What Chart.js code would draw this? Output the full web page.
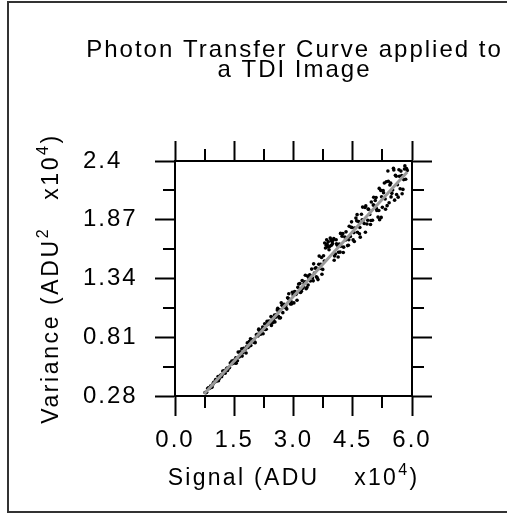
<!DOCTYPE html>
<html>
<head>
<meta charset="utf-8">
<style>
  html, body { margin: 0; padding: 0; background: #fff; }
  #wrap { width: 507px; height: 514px; }
</style>
</head>
<body>
<div id="wrap"><canvas id="chart" width="507" height="514"></canvas></div>
<script src="https://cdn.jsdelivr.net/npm/chart.js@4.4.1/dist/chart.umd.min.js"></script>
<script>
  // measured points: signal (ADU x1e4) vs variance (ADU^2 x1e4)
  const signal = [
    0.76,0.80,0.83,0.87,0.90,0.94,0.98,1.01,1.05,1.09,
    1.12,1.16,1.20,1.23,1.27,1.31,1.34,1.38,1.42,1.45,
    1.49,1.52,1.56,1.60,1.63,1.67,1.70,1.74,1.78,1.81,
    1.85,1.88,1.92,1.96,1.99,2.03,2.06,2.10,2.13,2.17,
    2.20,2.24,2.27,2.31,2.34,2.38,2.41,2.45,2.48,2.52,
    2.55,2.59,2.62,2.66,2.69,2.73,2.76,2.80,2.83,2.87,
    2.90,2.94,2.97,3.01,3.04,3.08,3.11,3.15,3.18,3.22,
    3.25,3.29,3.32,3.36,3.39,3.43,3.46,3.50,3.53,3.57,
    3.60,3.64,3.67,3.71,3.74,3.78,3.81,3.85,3.88,3.92,
    3.95,3.99,4.02,4.06,4.09,4.13,4.16,4.20,4.23,4.27,
    4.30,4.34,4.37,4.41,4.44,4.48,4.51,4.55,4.58,4.62,
    4.65,4.69,4.72,4.76,4.79,4.83,4.86,4.90,4.93,4.97,
    5.00,5.04,5.07,5.11,5.14,5.18,5.21,5.25,5.28,5.32,
    5.35,5.39,5.42,5.46,5.49,5.53,5.56,5.60,5.63,5.67,
    5.70,5.74,5.77,5.81,5.84,5.88,
    0.78,0.85,0.92,0.96,1.03,1.07,1.14,1.18,1.25,1.29,
    1.36,1.40,1.47,1.54,1.58,1.65,1.72,1.76,1.83,1.90,
    1.94,2.01,2.08,2.15,2.22,2.29,2.36,2.43,2.50,2.57,
    2.64,2.71,2.78,2.85,2.92,2.99,3.06,3.13,3.20,3.27,
    3.34,3.41,3.48,3.55,3.62,3.69,3.76,3.83,3.90,3.97,
    4.04,4.11,4.18,4.25,4.32,4.39,4.46,4.53,4.60,4.67,
    4.74,4.81,4.88,4.95,5.02,5.09,5.16,5.23,5.30,5.37,
    5.44,5.51,5.58,5.65,5.72,5.79,5.86,
    2.60,2.67,2.74,2.81,2.88,2.95,3.03,3.09,3.16,3.23,
    3.30,3.37,3.44,3.51,3.58,3.65,3.72,3.79,3.84,3.87,
    3.93,3.96,4.00,4.03,4.08,4.14,4.19,4.26,4.33,4.40,
    4.47,4.54,4.61,4.68,4.75,4.82,4.89,4.96,5.03,5.10,
    5.17,5.22,5.27,5.33,5.40,5.47,5.54,5.61,5.68,5.75,
    5.82,
    1.10,1.21,1.33,1.44,1.55,1.69,1.80,1.91,2.02,2.12,
    2.23,2.33,2.44,2.53
  ];
  const variance = [
    0.312,0.313,0.349,0.348,0.369,0.361,0.404,0.406,0.414,0.455,
    0.436,0.468,0.475,0.503,0.486,0.530,0.535,0.538,0.581,0.571,
    0.602,0.577,0.619,0.676,0.633,0.673,0.640,0.711,0.702,0.723,
    0.717,0.772,0.735,0.787,0.790,0.760,0.833,0.822,0.874,0.838,
    0.877,0.879,0.932,0.882,0.924,0.956,0.937,0.991,0.942,1.010,
    0.990,1.055,1.000,1.058,1.121,1.032,1.107,1.098,1.064,1.160,
    1.147,1.131,1.216,1.120,1.219,1.210,1.260,1.220,1.214,1.321,
    1.266,1.310,1.247,1.361,1.345,1.318,1.425,1.319,1.390,1.436,
    1.347,1.468,1.430,1.530,1.422,1.497,1.615,1.650,1.672,1.630,
    1.690,1.655,1.700,1.561,1.653,1.534,1.650,1.631,1.722,1.623,
    1.715,1.705,1.637,1.812,1.719,1.800,1.688,1.795,1.885,1.757,
    1.853,1.713,1.920,1.864,1.836,1.995,1.831,1.964,1.917,2.030,
    1.866,1.999,2.043,1.954,1.894,1.871,2.135,1.982,2.114,2.057,
    2.213,2.310,2.024,2.200,2.108,2.335,2.047,2.262,2.186,2.321,
    2.149,2.269,2.144,2.328,2.236,2.315,
    0.310,0.354,0.357,0.387,0.429,0.421,0.461,0.453,0.508,0.513,
    0.530,0.577,0.580,0.624,0.598,0.678,0.670,0.704,0.759,0.733,
    0.767,0.763,0.836,0.844,0.902,0.881,0.939,0.997,0.960,1.015,
    0.983,1.098,1.079,1.166,1.110,1.193,1.195,1.290,1.225,1.295,
    1.258,1.373,1.345,1.433,1.330,1.467,1.545,1.640,1.600,1.675,
    1.544,1.641,1.578,1.745,1.687,1.640,1.802,1.754,1.860,1.744,
    1.869,1.981,1.865,1.827,2.004,2.070,1.954,2.078,2.202,1.997,
    2.184,2.139,2.271,2.074,2.309,2.232,2.332,
    1.072,0.985,1.099,1.077,1.202,1.111,1.222,1.144,1.294,1.251,
    1.369,1.281,1.364,1.472,1.355,1.542,1.379,1.660,1.690,1.625,
    1.705,1.640,1.685,1.505,1.689,1.577,1.747,1.574,1.761,1.689,
    1.851,1.674,1.916,1.800,1.984,1.757,1.966,1.863,2.073,1.970,
    2.153,1.891,2.134,1.965,2.217,2.076,2.319,2.098,2.262,2.105,
    2.356,
    0.417,0.505,0.510,0.596,0.575,0.706,0.668,0.797,0.767,0.883,
    0.842,0.953,0.917,0.947
  ];
  // fitted line ends
  const fitSignal = [0.74, 5.88];
  const fitVariance = [0.30, 2.30];

  const xTicks = [0, 1.5, 3, 4.5, 6];
  const xTickLabels = ['0.0', '1.5', '3.0', '4.5', '6.0'];
  const xMinor = [0.75, 2.25, 3.75, 5.25];
  const yTicks = [0.28, 0.81, 1.34, 1.87, 2.4];
  const yTickLabels = ['0.28', '0.81', '1.34', '1.87', '2.4'];
  const yMinor = [0.545, 1.075, 1.605, 2.135];

  const FONT = '"Liberation Sans", Arial, sans-serif';

  function setTicks(vals) {
    return scale => { scale.ticks = vals.map(v => ({ value: v })); };
  }

  function axis(pos, vals, labels, fitSize, showLabels) {
    const horiz = pos === 'top' || pos === 'bottom';
    return {
      type: 'linear',
      position: pos,
      min: vals[0],
      max: vals[vals.length - 1],
      afterBuildTicks: setTicks(vals),
      afterFit: s => { if (horiz) s.height = fitSize; else s.width = fitSize; },
      border: { display: true, color: '#000', width: 2 },
      grid: { drawOnChartArea: false, drawTicks: true, tickLength: 20, tickWidth: 2, tickColor: '#000' },
      ticks: {
        display: showLabels,
        color: '#000',
        font: { family: FONT, size: 24 },
        padding: 10,
        crossAlign: horiz ? 'near' : 'far',
        maxRotation: 0,
        autoSkip: false,
        callback: (v, i) => labels[i]
      }
    };
  }

  // draw a line of text with superscripts, centred on x
  function drawRich(ctx, parts, x, y, size, supSize, rise) {
    let w = 0;
    parts.forEach(p => {
      ctx.font = (p.sup ? supSize : size) + 'px ' + FONT;
      p.w = ctx.measureText(p.t).width;
      w += p.w;
    });
    let cx = x - w / 2;
    parts.forEach(p => {
      ctx.font = (p.sup ? supSize : size) + 'px ' + FONT;
      ctx.fillText(p.t, cx, p.sup ? y - rise : y);
      cx += p.w;
    });
  }

  const decor = {
    id: 'decor',
    beforeDraw(chart) {
      const ctx = chart.ctx;
      ctx.save();
      ctx.strokeStyle = '#333';
      ctx.lineWidth = 2;
      ctx.strokeRect(8, 2, 530, 510);
      ctx.restore();
      ctx.letterSpacing = '2px';
    },
    afterDraw(chart) {
      const ctx = chart.ctx;
      const a = chart.chartArea;
      const sx = chart.scales.x, sy = chart.scales.y;
      ctx.save();
      // minor ticks on all four sides
      ctx.strokeStyle = '#000';
      ctx.lineWidth = 2;
      ctx.beginPath();
      xMinor.forEach(v => {
        const px = Math.round(sx.getPixelForValue(v));
        ctx.moveTo(px, a.bottom); ctx.lineTo(px, a.bottom + 12);
        ctx.moveTo(px, a.top); ctx.lineTo(px, a.top - 12);
      });
      yMinor.forEach(v => {
        const py = Math.round(sy.getPixelForValue(v));
        ctx.moveTo(a.left - 12, py); ctx.lineTo(a.left, py);
        ctx.moveTo(a.right, py); ctx.lineTo(a.right + 12, py);
      });
      ctx.stroke();

      ctx.fillStyle = '#000';
      ctx.textBaseline = 'alphabetic';
      const cx = (a.left + a.right) / 2;

      // title
      ctx.letterSpacing = '2px';
      ctx.textAlign = 'center';
      ctx.font = '24px ' + FONT;
      ctx.fillText('Photon Transfer Curve applied to', cx + 1, 57);
      ctx.fillText('a TDI Image', cx + 1, 77);

      // axis titles
      ctx.letterSpacing = '2.3px';
      ctx.textAlign = 'left';
      drawRich(ctx, [
        { t: 'Signal (ADU    x10' }, { t: '4', sup: true }, { t: ')' }
      ], cx, 485, 23, 16, 10);

      ctx.letterSpacing = '2.6px';
      ctx.translate(58, (a.top + a.bottom) / 2);
      ctx.rotate(-Math.PI / 2);
      drawRich(ctx, [
        { t: 'Variance (ADU' }, { t: '2', sup: true }, { t: '   x10' }, { t: '4', sup: true }, { t: ')' }
      ], 0, 0, 23, 16, 10);
      ctx.restore();
    }
  };

  new Chart(document.getElementById('chart'), {
    type: 'scatter',
    data: {
      datasets: [
        {
          type: 'line',
          data: fitSignal.map((x, i) => ({ x, y: fitVariance[i] })),
          borderColor: '#9a9a9a',
          borderWidth: 3,
          pointRadius: 0,
          fill: false,
          order: 0
        },
        {
          data: signal.map((x, i) => ({ x, y: variance[i] })),
          backgroundColor: '#000',
          borderWidth: 0,
          pointRadius: 1.8,
          order: 1
        }
      ]
    },
    options: {
      responsive: false,
      devicePixelRatio: 1,
      animation: false,
      layout: { padding: { left: 83, right: 75, top: 141, bottom: 58 } },
      plugins: { legend: { display: false }, tooltip: { enabled: false }, title: { display: false } },
      scales: {
        x: axis('bottom', xTicks, xTickLabels, 60, true),
        x2: axis('top', xTicks, xTickLabels, 20, false),
        y: axis('left', yTicks, yTickLabels, 92, true),
        y2: axis('right', yTicks, yTickLabels, 20, false)
      }
    },
    plugins: [decor]
  });
</script>
</body>
</html>
